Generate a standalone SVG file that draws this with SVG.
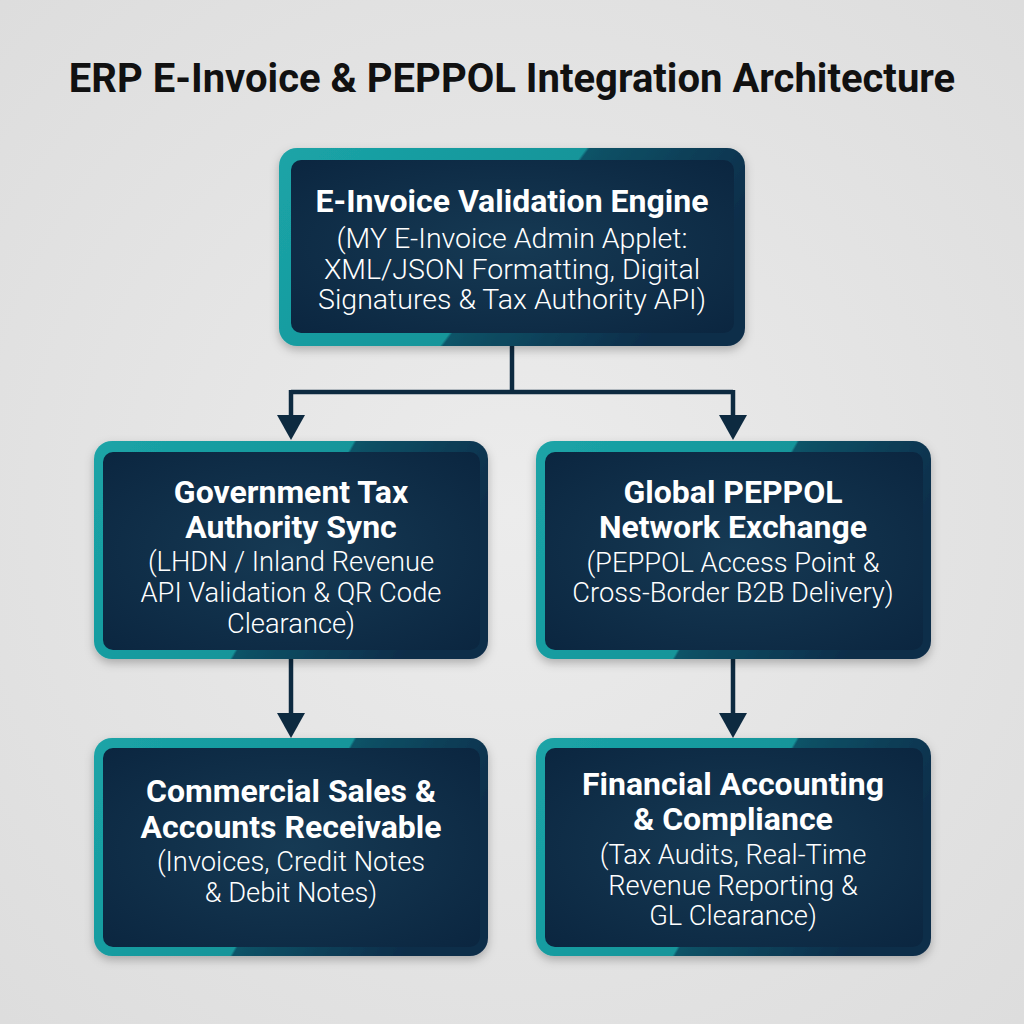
<svg xmlns="http://www.w3.org/2000/svg" width="1024" height="1024" viewBox="0 0 1024 1024">
<defs>
<radialGradient id="bg" cx="0.5" cy="0.5" r="0.75">
<stop offset="0" stop-color="#ececec"/>
<stop offset="1" stop-color="#dcdcdc"/>
</radialGradient>
<linearGradient id="border" x1="0" y1="0" x2="1" y2="0.315">
<stop offset="0" stop-color="#1ba4a7"/>
<stop offset="0.6" stop-color="#14959a"/>
<stop offset="0.607" stop-color="#0f5367"/>
<stop offset="1" stop-color="#0b2d4a"/>
</linearGradient>
<radialGradient id="inner" cx="0.5" cy="0.5" r="0.7">
<stop offset="0" stop-color="#163a54"/>
<stop offset="1" stop-color="#0b2640"/>
</radialGradient>
<filter id="sh" x="-10%" y="-10%" width="120%" height="130%">
<feDropShadow dx="0" dy="4" stdDeviation="5" flood-color="#000" flood-opacity="0.25"/>
</filter>
<marker id="arr" viewBox="0 0 25 28" refX="5" refY="14" markerWidth="25" markerHeight="28" markerUnits="userSpaceOnUse" orient="auto">
<path d="M0,0 L25,14 L0,28 Z" fill="#0d2a40"/>
</marker>
</defs>
<style>
.outer{fill:url(#border);filter:url(#sh)}
.inner{fill:url(#inner)}
.t{font-family:Roboto,"Liberation Sans",sans-serif;fill:#ffffff;text-anchor:middle}
.h{font-size:32px;font-weight:700}
.s{font-size:27.3px;font-weight:300}
.s1{font-size:28.5px;font-weight:300}
.title{font-family:Roboto,"Liberation Sans",sans-serif;font-size:40px;font-weight:700;fill:#111111;text-anchor:middle}
.c{fill:none;stroke:#0d2a40;stroke-width:4.5}
</style>
<rect width="1024" height="1024" fill="url(#bg)"/>
<text class="title" x="512" y="92">ERP E-Invoice &amp; PEPPOL Integration Architecture</text>

<g id="connectors">
<path class="c" d="M512,346 V392"/>
<path class="c" d="M291,392 H733"/>
<path class="c" d="M291,390 V420" marker-end="url(#arr)"/>
<path class="c" d="M733,390 V420" marker-end="url(#arr)"/>
<path class="c" d="M291,659 V718" marker-end="url(#arr)"/>
<path class="c" d="M733,659 V718" marker-end="url(#arr)"/>
</g>

<g id="node-engine">
<rect class="outer" x="279" y="148" width="466" height="198" rx="18"/>
<rect class="inner" x="291" y="160" width="443" height="173" rx="10"/>
<text class="t h" x="512" y="212">E-Invoice Validation Engine</text>
<text class="t s1" x="512" y="248">(MY E-Invoice Admin Applet:</text>
<text class="t s1" x="512" y="279">XML/JSON Formatting, Digital</text>
<text class="t s1" x="512" y="309">Signatures &amp; Tax Authority API)</text>
</g>

<g id="node-tax">
<rect class="outer" x="94" y="441" width="394" height="218" rx="18"/>
<rect class="inner" x="103" y="452" width="377" height="198" rx="10"/>
<text class="t h" x="291" y="503">Government Tax</text>
<text class="t h" x="291" y="538">Authority Sync</text>
<text class="t s" x="291" y="571">(LHDN / Inland Revenue</text>
<text class="t s" x="291" y="602">API Validation &amp; QR Code</text>
<text class="t s" x="291" y="633">Clearance)</text>
</g>

<g id="node-peppol">
<rect class="outer" x="536" y="441" width="395" height="218" rx="18"/>
<rect class="inner" x="545" y="452" width="378" height="198" rx="10"/>
<text class="t h" x="733" y="503">Global PEPPOL</text>
<text class="t h" x="733" y="538">Network Exchange</text>
<text class="t s" x="733" y="572">(PEPPOL Access Point &amp;</text>
<text class="t s" x="733" y="602">Cross-Border B2B Delivery)</text>
</g>

<g id="node-sales">
<rect class="outer" x="94" y="738" width="394" height="218" rx="18"/>
<rect class="inner" x="103" y="748" width="377" height="199" rx="10"/>
<text class="t h" x="291" y="802">Commercial Sales &amp;</text>
<text class="t h" x="291" y="838">Accounts Receivable</text>
<text class="t s" x="291" y="871">(Invoices, Credit Notes</text>
<text class="t s" x="291" y="902">&amp; Debit Notes)</text>
</g>

<g id="node-finance">
<rect class="outer" x="536" y="738" width="395" height="218" rx="18"/>
<rect class="inner" x="545" y="748" width="378" height="199" rx="10"/>
<text class="t h" x="733" y="795">Financial Accounting</text>
<text class="t h" x="733" y="830">&amp; Compliance</text>
<text class="t s" x="733" y="864">(Tax Audits, Real-Time</text>
<text class="t s" x="733" y="895">Revenue Reporting &amp;</text>
<text class="t s" x="733" y="925">GL Clearance)</text>
</g>
</svg>
